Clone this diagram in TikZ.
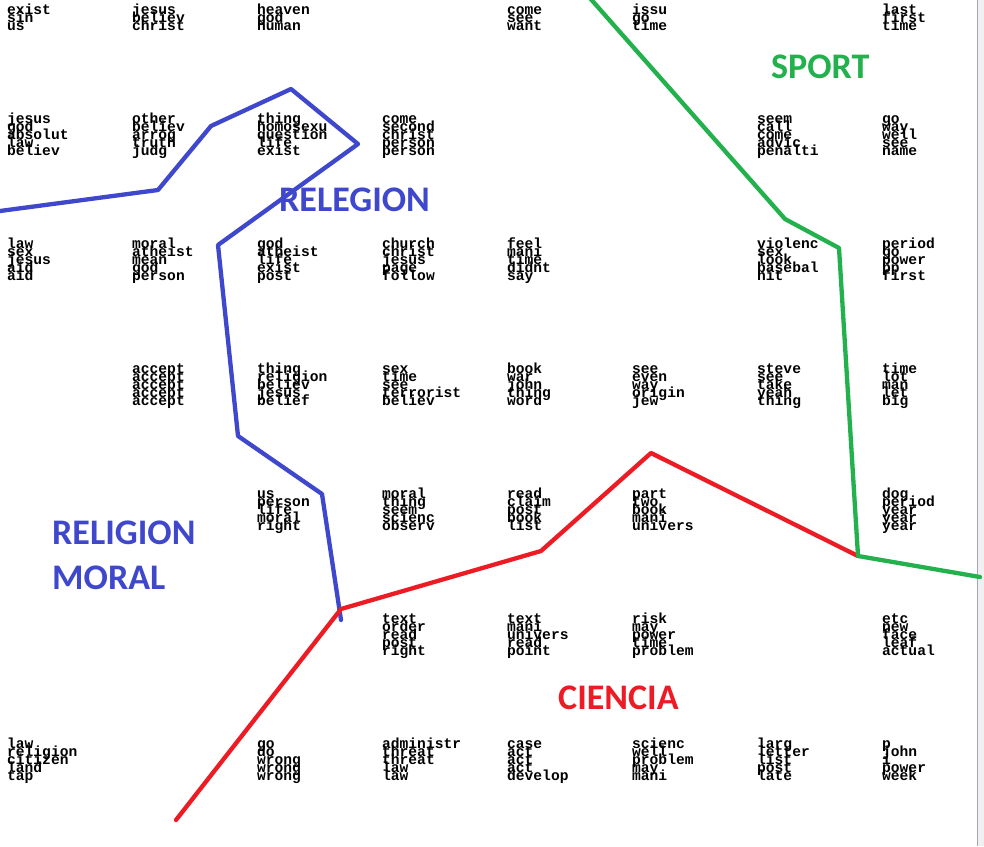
\documentclass[tikz,border=0pt]{standalone}
\usepackage{fontspec}
\newfontfamily\wmono{Liberation Mono}
\newfontfamily\lblfont{Carlito}
\definecolor{pblue}{HTML}{3F48CC}
\definecolor{pred}{HTML}{ED1C24}
\definecolor{pgreen}{HTML}{22B14C}
\definecolor{edgegray}{HTML}{F0F0F0}
\definecolor{edgeline}{HTML}{A8A4B8}
\newcommand\wfont{\wmono\bfseries\fontsize{14.6}{8}\selectfont}
\makeatletter
\newcommand\wc[1]{\vtop{\wfont\baselineskip=8pt\lineskiplimit=-100pt\lineskip=0pt\relax\@for\w:=#1\do{\hbox{\w}}}}
\makeatother
\tikzset{
  cl/.style={inner sep=0pt, anchor=base west, text=black},
  lbl/.style={inner sep=0pt, anchor=base west, font=\lblfont\bfseries\fontsize{36}{40}\selectfont},
  stroke/.style={line width=4.3pt, line join=round, line cap=round}
}
\begin{document}
\begin{tikzpicture}[x=1pt,y=-1pt]
\fill[white] (0,0) rectangle (984,846);
\useasboundingbox (0,0) rectangle (984,846);
\fill[edgegray] (977,0) rectangle (984,846);
\draw[edgeline, line width=1.2pt] (977.5,0) -- (977.5,846);
% row 0
\node[cl] (r0c0) at (7,14) {\wc{exist,sin,us}};
\node[cl] (r0c1) at (132,14) {\wc{jesus,believ,christ}};
\node[cl] (r0c2) at (257,14) {\wc{heaven,god,human}};
\node[cl] (r0c4) at (507,14) {\wc{come,see,want}};
\node[cl] (r0c5) at (632,14) {\wc{issu,go,time}};
\node[cl] (r0c7) at (882,14) {\wc{last,first,time}};
% row 1
\node[cl] (r1c0) at (7,123) {\wc{jesus,god,absolut,law,believ}};
\node[cl] (r1c1) at (132,123) {\wc{other,believ,arrog,truth,judg}};
\node[cl] (r1c2) at (257,123) {\wc{thing,homosexu,question,life,exist}};
\node[cl] (r1c3) at (382,123) {\wc{come,second,christ,person,person}};
\node[cl] (r1c6) at (757,123) {\wc{seem,call,come,advic,penalti}};
\node[cl] (r1c7) at (882,123) {\wc{go,way,well,see,name}};
% row 2
\node[cl] (r2c0) at (7,248) {\wc{law,sex,jesus,aid,aid}};
\node[cl] (r2c1) at (132,248) {\wc{moral,atheist,mean,god,person}};
\node[cl] (r2c2) at (257,248) {\wc{god,atheist,life,exist,post}};
\node[cl] (r2c3) at (382,248) {\wc{church,christ,jesus,page,follow}};
\node[cl] (r2c4) at (507,248) {\wc{feel,mani,time,didnt,say}};
\node[cl] (r2c6) at (757,248) {\wc{violenc,sex,look,basebal,hit}};
\node[cl] (r2c7) at (882,248) {\wc{period,go,power,pp,first}};
% row 3
\node[cl] (r3c1) at (132,373) {\wc{accept,accept,accept,accept,accept}};
\node[cl] (r3c2) at (257,373) {\wc{thing,religion,believ,jesus,belief}};
\node[cl] (r3c3) at (382,373) {\wc{sex,time,see,terrorist,believ}};
\node[cl] (r3c4) at (507,373) {\wc{book,war,john,thing,word}};
\node[cl] (r3c5) at (632,373) {\wc{see,even,way,origin,jew}};
\node[cl] (r3c6) at (757,373) {\wc{steve,see,take,yeah,thing}};
\node[cl] (r3c7) at (882,373) {\wc{time,lot,man,let,big}};
% row 4
\node[cl] (r4c2) at (257,498) {\wc{us,person,life,moral,right}};
\node[cl] (r4c3) at (382,498) {\wc{moral,thing,seem,scienc,observ}};
\node[cl] (r4c4) at (507,498) {\wc{read,claim,post,book,list}};
\node[cl] (r4c5) at (632,498) {\wc{part,two,book,mani,univers}};
\node[cl] (r4c7) at (882,498) {\wc{dog,period,year,year,year}};
% row 5
\node[cl] (r5c3) at (382,623) {\wc{text,order,read,post,right}};
\node[cl] (r5c4) at (507,623) {\wc{text,mani,univers,read,point}};
\node[cl] (r5c5) at (632,623) {\wc{risk,may,power,time,problem}};
\node[cl] (r5c7) at (882,623) {\wc{etc,new,face,leaf,actual}};
% row 6
\node[cl] (r6c0) at (7,748) {\wc{law,religion,citizen,land,tap}};
\node[cl] (r6c2) at (257,748) {\wc{go,do,wrong,wrong,wrong}};
\node[cl] (r6c3) at (382,748) {\wc{administr,threat,threat,law,law}};
\node[cl] (r6c4) at (507,748) {\wc{case,act,act,act,develop}};
\node[cl] (r6c5) at (632,748) {\wc{scienc,well,problem,may,mani}};
\node[cl] (r6c6) at (757,748) {\wc{larg,letter,list,post,late}};
\node[cl] (r6c7) at (882,748) {\wc{p,john,i,power,week}};
% boundary points
\coordinate (b1) at (0,211);
\coordinate (b2) at (158,190);
\coordinate (b3) at (211,126);
\coordinate (b4) at (291,89);
\coordinate (b5) at (358,144);
\coordinate (b6) at (218,245);
\coordinate (b7) at (238,436);
\coordinate (b8) at (322,494);
\coordinate (b9) at (341,620);
\coordinate (r1) at (176,820);
\coordinate (r2) at (341,609);
\coordinate (r3) at (541,551);
\coordinate (r4) at (651,453);
\coordinate (r5) at (858,556);
\coordinate (g1) at (589,-3);
\coordinate (g2) at (785,219);
\coordinate (g3) at (839,248);
\coordinate (g4) at (858,556);
\coordinate (g5) at (980,577);
\draw[stroke, pblue] (b1) -- (b2) -- (b3) -- (b4) -- (b5) -- (b6) -- (b7) -- (b8) -- (b9);
\draw[stroke, pred] (r1) -- (r2) -- (r3) -- (r4) -- (r5);
\draw[stroke, pgreen] (g1) -- (g2) -- (g3) -- (g4) -- (g5);
% labels
\node[lbl, text=pgreen] (sport) at (771,78.5) {SPORT};
\node[lbl, text=pblue] (relegion) at (279,211.5) {RELEGION};
\node[lbl, text=pblue] (religion) at (52,544.5) {RELIGION};
\node[lbl, text=pblue] (moral) at (52,589.5) {MORAL};
\node[lbl, text=pred] (ciencia) at (558,709.5) {CIENCIA};
\end{tikzpicture}
\end{document}
